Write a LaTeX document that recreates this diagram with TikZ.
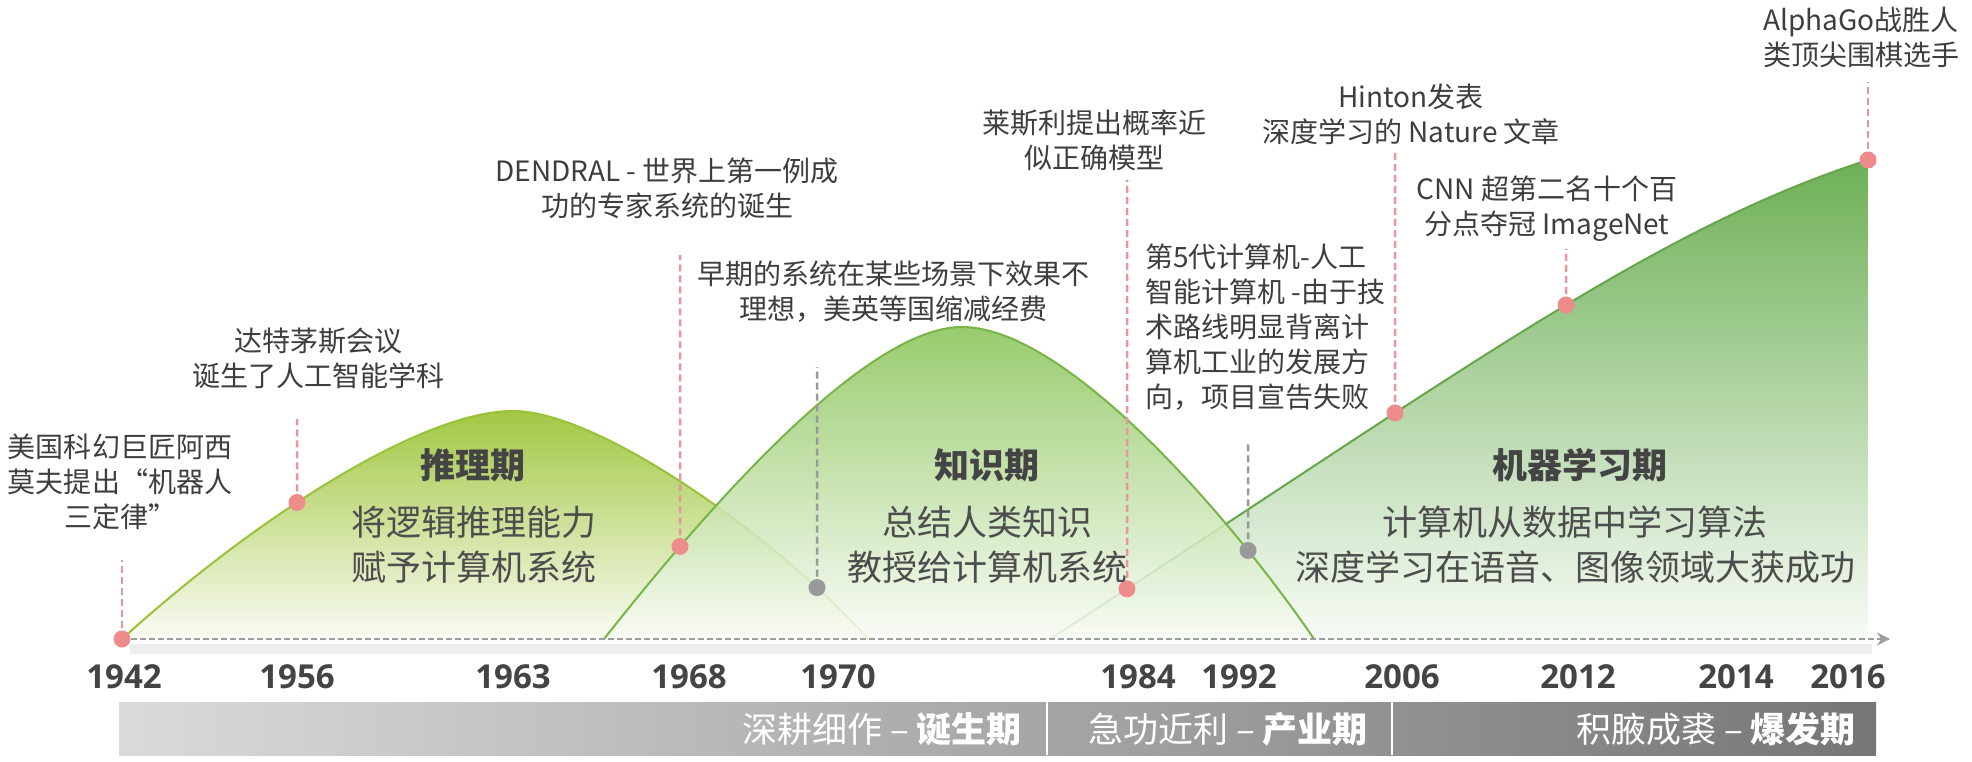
\documentclass[tikz,border=0pt]{standalone}
\usepackage{fontspec}
\setmainfont{Noto Sans CJK SC}
\newfontfamily\yearfont{Open Sans}
\usetikzlibrary{intersections,arrows.meta}
\definecolor{txt}{HTML}{3E3E3E}
\definecolor{ttl}{HTML}{444444}
\definecolor{bdy}{HTML}{4D4D4D}
\definecolor{yr}{HTML}{444444}
\definecolor{pinkc}{HTML}{EE8C8C}
\definecolor{pinkl}{HTML}{E8959B}
\definecolor{grayd}{HTML}{999999}
\definecolor{hOneTop}{HTML}{A3C743}
\definecolor{hOneLine}{HTML}{98C238}
\definecolor{hTwoTop}{HTML}{88C355}
\definecolor{hTwoLine}{HTML}{78B546}
\definecolor{hThreeTop}{HTML}{6EB056}
\definecolor{hThreeLine}{HTML}{66A64B}
\definecolor{barL}{HTML}{DADADA}
\definecolor{barR}{HTML}{767676}
\definecolor{axisc}{HTML}{9E9E9E}
\begin{document}
\begin{tikzpicture}[x=1pt,y=-1pt,
  note/.style={font=\fontsize{28}{35}\selectfont, text=txt, align=center, inner sep=0pt},
  phase/.style={font=\fontsize{35}{40}\selectfont\bfseries, text=ttl, inner sep=0pt},
  body/.style={font=\fontsize{35}{45}\selectfont, text=bdy, align=center, inner sep=0pt},
  year/.style={font=\yearfont\bfseries\fontsize{33}{36}\selectfont, text=yr, inner sep=0pt},
  bartext/.style={font=\fontsize{35}{38}\selectfont, text=white, inner sep=0pt, anchor=east},
  pinkdash/.style={draw=pinkl, dash pattern=on 7pt off 4pt, line width=2.5pt},
  graydash/.style={draw=grayd, dash pattern=on 7pt off 4pt, line width=2.5pt},
  pinkdot/.style={circle, fill=pinkc, minimum size=17pt, inner sep=0pt},
  graydot/.style={circle, fill=grayd, minimum size=17pt, inner sep=0pt},
]
\useasboundingbox (0,0) rectangle (1972,762);
\fill[white] (0,0) rectangle (1972,762);

% hump 1
\shade[top color=hOneTop, bottom color=white!94!hOneTop]
  (122,639) .. controls (252,521) and (420,411) .. (513,411)
  .. controls (600,411) and (780,540) .. (868,639) -- cycle;
\draw[name path=c1, hOneLine, line width=2pt]
  (122,639) .. controls (252,521) and (420,411) .. (513,411)
  .. controls (600,411) and (780,540) .. (868,639);

% hump 3
\shade[top color=hThreeTop, bottom color=white!95!hThreeTop]
  (1050,639) .. controls (1450,380) and (1650,230) .. (1868,160) -- (1868,639) -- cycle;
\draw[name path=c3, hThreeLine, line width=2pt]
  (1050,639) .. controls (1450,380) and (1650,230) .. (1868,160);

% hump 2
\shade[top color=hTwoTop, bottom color=white!95!hTwoTop, fill opacity=0.85]
  (604,639) .. controls (690,530) and (860,327) .. (962,327)
  .. controls (1070,327) and (1240,530) .. (1314,639) -- cycle;
\draw[name path=c2, hTwoLine, line width=2pt]
  (604,639) .. controls (690,530) and (860,327) .. (962,327)
  .. controls (1070,327) and (1240,530) .. (1314,639);

% points on curves
\coordinate (d1942) at (122,639);
\coordinate (d2016) at (1868,160);
\path[name path=v1956] (297,0) -- (297,762);
\path[name path=v1970] (817,0) -- (817,762);
\path[name path=v1968] (680,0) -- (680,762);
\path[name path=v1992] (1248,0) -- (1248,762);
\path[name path=v1984] (1127,0) -- (1127,762);
\path[name path=v2006] (1395,0) -- (1395,762);
\path[name path=v2012] (1566,0) -- (1566,762);
\path[name intersections={of=c1 and v1956, by={d1956}}];
\path[name intersections={of=c1 and v1970, by={d1970}}];
\path[name intersections={of=c2 and v1968, by={d1968}}];
\path[name intersections={of=c2 and v1992, by={d1992}}];
\path[name intersections={of=c3 and v1984, by={d1984}}];
\path[name intersections={of=c3 and v2006, by={d2006}}];
\path[name intersections={of=c3 and v2012, by={d2012}}];

% axis
\fill[black!7] (130,644) rectangle (1872,654);
\coordinate (axend) at (1890,639);
\draw[axisc, line width=2.5pt, dash pattern=on 6pt off 3pt,
  -{Stealth[length=13pt,width=13pt]}] (d1942) -- (axend);

% dashed guide lines
\coordinate (u1942) at (122,560);
\coordinate (u1956) at (297,419);
\coordinate (u1968) at (680,255);
\coordinate (u1970) at (817,367);
\coordinate (u1984) at (1127,180);
\coordinate (u1992) at (1248,443);
\coordinate (u2006) at (1395,150);
\coordinate (u2012) at (1566,249);
\coordinate (u2016) at (1868,82);
\draw[pinkdash] (d1942) -- (u1942);
\draw[pinkdash] (d1956) -- (u1956);
\draw[pinkdash] (d1968) -- (u1968);
\draw[graydash] (d1970) -- (u1970);
\draw[pinkdash] (d1984) -- (u1984);
\draw[graydash] (d1992) -- (u1992);
\draw[pinkdash] (d2006) -- (u2006);
\draw[pinkdash] (d2012) -- (u2012);
\draw[pinkdash] (d2016) -- (u2016);

% dots
\node[pinkdot] (p1942) at (d1942) {};
\node[pinkdot] (p1956) at (d1956) {};
\node[pinkdot] (p1968) at (d1968) {};
\node[graydot] (p1970) at (d1970) {};
\node[pinkdot] (p1984) at (d1984) {};
\node[graydot] (p1992) at (d1992) {};
\node[pinkdot] (p2006) at (d2006) {};
\node[pinkdot] (p2012) at (d2012) {};
\node[pinkdot] (p2016) at (d2016) {};

% annotations
\node[note] (n1942) at (120,482) {美国科幻巨匠阿西\\莫夫提出“机器人\\三定律”};
\node[note] (n1956) at (318,358) {达特茅斯会议\\诞生了人工智能学科};
\node[note] (n1968) at (667,188) {DENDRAL - 世界上第一例成\\功的专家系统的诞生};
\node[note] (n1970) at (893,292) {早期的系统在某些场景下效果不\\理想，美英等国缩减经费};
\node[note] (n1984) at (1094,140) {莱斯利提出概率近\\似正确模型};
\node[note, align=left, anchor=west] (n1992) at (1145,327) {第5代计算机-人工\\智能计算机 -由于技\\术路线明显背离计\\算机工业的发展方\\向，项目宣告失败};
\node[note] (n2006) at (1411,114) {Hinton发表\\深度学习的 Nature 文章};
\node[note] (n2012) at (1547,209) {CNN 超第二名十个百\\分点夺冠 ImageNet};
\node[note] (n2016) at (1861,37) {AlphaGo战胜人\\类顶尖围棋选手};

% phase labels
\node[phase] (t1) at (473,465) {推理期};
\node[body] (b1) at (474,545) {将逻辑推理能力\\赋予计算机系统};
\node[phase] (t2) at (987,465) {知识期};
\node[body] (b2) at (987,545) {总结人类知识\\教授给计算机系统};
\node[phase] (t3) at (1580,465) {机器学习期};
\node[body] (b3) at (1575,545) {计算机从数据中学习算法\\深度学习在语音、图像领域大获成功};

% years
\foreach \yy/\xx in {1942/124,1956/297,1963/513,1968/689,1970/838,1984/1138,1992/1239,2006/1402,2012/1578,2014/1736,2016/1848}
  \node[year] (y\yy) at (\xx,677) {\yy};

% bottom bar
\shade[left color=barL, right color=barR] (119,702) rectangle (1876,755);
\draw[white, line width=2pt] (1047,702) -- (1047,755);
\draw[white, line width=2pt] (1392,702) -- (1392,755);
\node[bartext] (s1) at (1022,729) {深耕细作 – \textbf{诞生期}};
\node[bartext] (s2) at (1368,729) {急功近利 – \textbf{产业期}};
\node[bartext] (s3) at (1856,729) {积腋成裘 – \textbf{爆发期}};
\end{tikzpicture}
\end{document}
